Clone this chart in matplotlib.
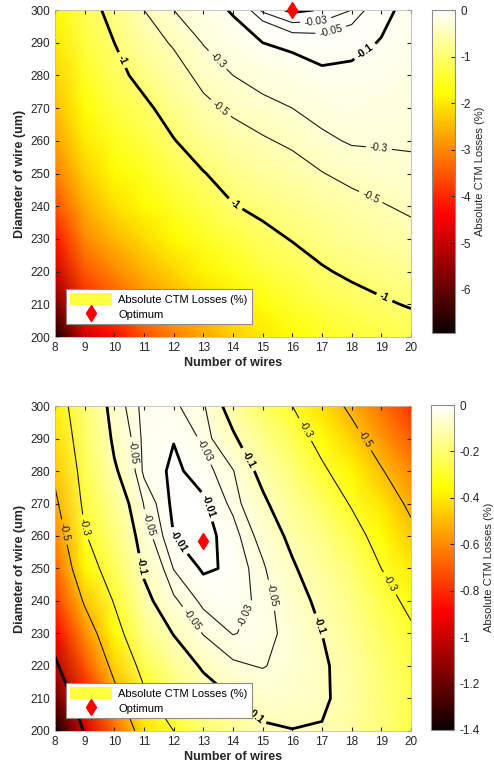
import matplotlib
matplotlib.use('Agg')
import matplotlib.pyplot as plt
import numpy as np
from matplotlib.patches import Patch
from matplotlib.lines import Line2D

plt.rcParams['font.family'] = ['Liberation Sans', 'DejaVu Sans']
plt.rcParams['contour.negative_linestyle'] = 'solid'

# grid of the study
wires = [8, 9, 10, 11, 12, 13, 14, 15, 16, 17, 18, 19, 20]
diameters = [200, 210, 220, 230, 240, 250, 260, 270, 280, 290, 300]

# CTM losses (%), one list per number of wires, diameter 200 -> 300
losses_top = [
    [-6.8, -5.8, -4.9, -4.2, -3.6, -3.1, -2.75, -2.45, -2.2, -2.0, -1.8],
    [-4.9, -4.1, -3.5, -3.0, -2.6, -2.25, -1.95, -1.72, -1.52, -1.35, -1.2],
    [-4.3, -3.6, -3.0, -2.5, -2.1, -1.8, -1.55, -1.35, -1.15, -1.0, -0.85],
    [-3.6, -3.0, -2.55, -2.15, -1.8, -1.55, -1.3, -1.1, -0.85, -0.63, -0.5],
    [-3.1, -2.6, -2.2, -1.8, -1.5, -1.25, -1.02, -0.8, -0.62, -0.47, -0.3],
    [-2.7, -2.25, -1.85, -1.52, -1.25, -1.02, -0.77, -0.57, -0.42, -0.29, -0.17],
    [-2.3, -1.95, -1.6, -1.3, -1.02, -0.82, -0.62, -0.45, -0.3, -0.17, -0.085],
    [-2.0, -1.68, -1.38, -1.12, -0.9, -0.7, -0.53, -0.36, -0.22, -0.1, -0.025],
    [-1.75, -1.45, -1.2, -0.98, -0.8, -0.62, -0.45, -0.3, -0.17, -0.07, -0.005],
    [-1.55, -1.28, -1.04, -0.85, -0.68, -0.51, -0.34, -0.23, -0.115, -0.065, -0.012],
    [-1.4, -1.15, -0.93, -0.75, -0.6, -0.42, -0.28, -0.2, -0.12, -0.075, -0.03],
    [-1.3, -1.05, -0.85, -0.67, -0.52, -0.37, -0.28, -0.22, -0.15, -0.105, -0.075],
    [-1.2, -0.97, -0.78, -0.6, -0.45, -0.34, -0.28, -0.24, -0.2, -0.16, -0.13],
]

losses_bottom = [
    [-1.4, -1.2, -1.04, -0.9, -0.77, -0.68, -0.6, -0.53, -0.47, -0.42, -0.38],
    [-0.98, -0.85, -0.72, -0.6, -0.48, -0.37, -0.31, -0.27, -0.245, -0.22, -0.2],
    [-0.68, -0.56, -0.45, -0.36, -0.29, -0.23, -0.19, -0.15, -0.11, -0.085, -0.067],
    [-0.42, -0.33, -0.25, -0.17, -0.12, -0.09, -0.065, -0.048, -0.025, -0.024, -0.022],
    [-0.3, -0.22, -0.15, -0.097, -0.055, -0.029, -0.01, -0.004, -0.005, -0.011, -0.026],
    [-0.2, -0.14, -0.09, -0.048, -0.024, -0.007, -0.002, -0.006, -0.02, -0.034, -0.045],
    [-0.16, -0.1, -0.055, -0.029, -0.02, -0.013, -0.02, -0.036, -0.048, -0.09, -0.13],
    [-0.11, -0.075, -0.048, -0.036, -0.036, -0.045, -0.062, -0.087, -0.12, -0.16, -0.22],
    [-0.102, -0.072, -0.062, -0.064, -0.075, -0.092, -0.115, -0.15, -0.19, -0.24, -0.3],
    [-0.105, -0.088, -0.088, -0.1, -0.115, -0.14, -0.175, -0.22, -0.28, -0.34, -0.42],
    [-0.14, -0.13, -0.135, -0.15, -0.17, -0.2, -0.25, -0.31, -0.37, -0.45, -0.53],
    [-0.19, -0.19, -0.2, -0.22, -0.25, -0.3, -0.35, -0.41, -0.49, -0.57, -0.65],
    [-0.25, -0.25, -0.26, -0.28, -0.33, -0.39, -0.46, -0.53, -0.6, -0.69, -0.78],
]

optimum_top = (16, 300)
optimum_bottom = (13, 258.5)

thin_levels = [-0.5, -0.3, -0.05, -0.03]
thick_levels = [-1, -0.1, -0.01]

cbar_ticks_top = [-6, -5, -4, -3, -2, -1, 0]
cbar_ticks_bottom = [-1.4, -1.2, -1, -0.8, -0.6, -0.4, -0.2, 0]

# where the contour labels sit (wires, diameter)
top_thin_pos = [(13.5, 269), (18.5, 240), (13.4, 284), (18.9, 255.5), (17.3, 293.5), (16.8, 296)]
top_thick_pos = [(10.1, 284), (14.1, 241), (19.1, 212), (18.6, 285.5)]
bot_thin_pos = [(12.95, 286), (11.3, 264), (14.85, 234), (10.5, 285.5), (12.5, 233.5),
                (15.4, 242), (9.0, 262.7), (16.4, 292.6), (19.2, 245), (8.2, 261), (18.4, 289.5)]
bot_thick_pos = [(13.1, 269), (12.1, 258), (10.75, 250.5), (14.4, 283), (16.8, 232), (14.7, 204)]

txt = '#262626'

fig = plt.figure(figsize=(4.94, 7.71), dpi=100)


def draw(ax, cax, cols, vmin, cticks, opt, thin_pos, thick_pos):
    W, D = np.meshgrid(wires, diameters)
    Z = np.array(cols).T
    pm = ax.pcolormesh(W, D, Z, cmap='hot', vmin=vmin, vmax=0, shading='gouraud')
    cs1 = ax.contour(W, D, Z, levels=thin_levels, colors='#1a1a1a', linewidths=0.8)
    cs2 = ax.contour(W, D, Z, levels=thick_levels, colors='k', linewidths=2)
    ax.clabel(cs1, fmt='%g', fontsize=7.5, manual=thin_pos, inline_spacing=4)
    lab = ax.clabel(cs2, fmt='%g', fontsize=7.5, manual=thick_pos, inline_spacing=4)
    for t in lab:
        t.set_fontweight('bold')
    ax.plot(opt[0], opt[1], 'd', color='red', ms=8, clip_on=False, zorder=6)

    ax.set_xlim(8, 20)
    ax.set_ylim(200, 300)
    ax.set_xticks(wires)
    ax.set_yticks(diameters)
    ax.tick_params(direction='in', labelsize=8.5, colors=txt, length=3, top=True, right=True)
    for s in ax.spines.values():
        s.set_color('#bdbdbd')
        s.set_linewidth(0.6)
    ax.set_xlabel('Number of wires', fontsize=9, fontweight='bold', color=txt, labelpad=2)
    ax.set_ylabel('Diameter of wire (um)', fontsize=9, fontweight='bold', color=txt, labelpad=3)

    handles = [Patch(facecolor='#ffff40', edgecolor='none'),
               Line2D([], [], marker='d', color='red', ls='none', ms=8)]
    leg = ax.legend(handles, ['Absolute CTM Losses (%)', 'Optimum'], loc='lower left',
                    bbox_to_anchor=(0.03, 0.04), fancybox=False, framealpha=1,
                    edgecolor='#8c8c8c', fontsize=8, handlelength=3.8, handleheight=1.25,
                    borderaxespad=0, borderpad=0.35, labelspacing=0.3, handletextpad=0.6)
    leg.get_frame().set_linewidth(0.8)
    leg.set_zorder(10)

    cb = fig.colorbar(pm, cax=cax, ticks=cticks)
    cb.ax.tick_params(labelsize=8.5, colors=txt, direction='in', length=3)
    cb.ax.set_yticklabels(['%g' % v for v in cticks])
    cb.outline.set_edgecolor('#8c8c8c')
    cb.outline.set_linewidth(0.8)
    cb.set_label('Absolute CTM Losses (%)', fontsize=8, color=txt, labelpad=3)


ax1 = fig.add_axes([0.1113, 0.5629, 0.7206, 0.4241])
cax1 = fig.add_axes([0.874, 0.568, 0.048, 0.419])
ax2 = fig.add_axes([0.1113, 0.0519, 0.7206, 0.4215])
cax2 = fig.add_axes([0.872, 0.0532, 0.048, 0.4215])

draw(ax1, cax1, losses_top, -6.93, cbar_ticks_top, optimum_top, top_thin_pos, top_thick_pos)
draw(ax2, cax2, losses_bottom, -1.4, cbar_ticks_bottom, optimum_bottom, bot_thin_pos, bot_thick_pos)

fig.savefig('out.png', dpi=100)
